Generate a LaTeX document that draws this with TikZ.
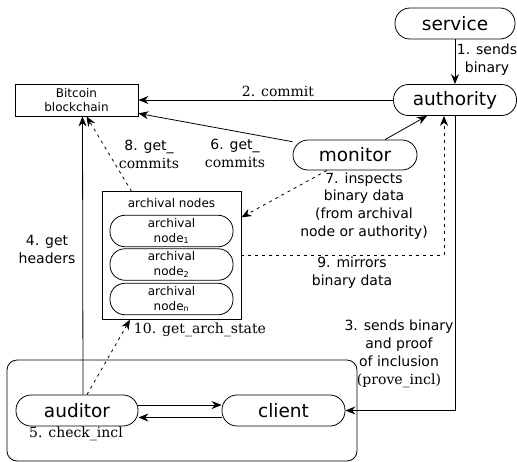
\documentclass[tikz,border=0pt]{standalone}
\usepackage{fontspec}
\setmainfont{DejaVu Sans}
\newfontfamily\serif{DejaVu Serif}
\usetikzlibrary{arrows.meta}
\begin{document}
\begin{tikzpicture}[x=1pt,y=-1pt,line width=0.8pt,
  pill/.style={draw, rounded corners=15pt, minimum width=123pt, minimum height=31pt, inner sep=0pt, font=\fontsize{18.5}{22}\selectfont},
  small/.style={draw, rounded corners=15pt, minimum width=123pt, minimum height=31.5pt, inner sep=0pt, align=center, font=\fontsize{12}{15}\selectfont},
  lbl/.style={font=\fontsize{14}{18}\selectfont, align=center, inner sep=0pt},
  arr/.style={-{Stealth[length=10pt,width=8pt]}},
  dots/.style={dash pattern=on 3pt off 4pt}]
\useasboundingbox (0,0) rectangle (517,461);
% group frame
\node[draw, rounded corners=10pt, minimum width=350pt, minimum height=101pt, inner sep=0pt] (grp) at (182,410.5) {};
% nodes
\node[pill, minimum width=120pt] (service) at (455,23.5) {service};
\node[pill] (authority) at (455,100) {authority};
\node[pill, minimum width=124pt, minimum height=30pt] (monitor) at (355,155) {monitor};
\node[pill, minimum width=122pt] (auditor) at (77,410.5) {auditor};
\node[pill] (client) at (283.5,410.5) {client};
\node[draw, minimum width=123pt, minimum height=32pt, inner sep=0pt, align=center, font=\fontsize{12}{14.7}\selectfont] (bc) at (76.5,100) {Bitcoin\\blockchain};
\node[draw, minimum width=139pt, minimum height=127.6pt, inner sep=0pt] (arch) at (171.5,255.5) {};
\node[inner sep=0pt, font=\fontsize{12}{15}\selectfont] (archlbl) at (171.5,203) {archival nodes};
\node[small] (n1) at (171.5,231) {archival\\node\textsubscript{1}};
\node[small] (n2) at (171.5,264.5) {archival\\node\textsubscript{2}};
\node[small] (nn) at (171.5,299) {archival\\node\textsubscript{n}};
% connectors
\draw[arr] (service) -- (authority);
\node[lbl] (l1) at (487,60) {1. sends\\binary};
\draw[arr] (authority.west) -- (bc.east);
\node[lbl] (l2) at (278,91.5) {\serif 2. commit};
\draw[arr] ([xshift=30pt]monitor.north) -- ([xshift=-28pt]authority.south);
\draw[arr] (monitor.168) -- ([yshift=3pt]bc.south east);
\node[lbl] (l6) at (235,153) {6. get\_\\{\serif commits}};
\draw[arr, dots] ([xshift=-40pt]arch.north) -- ([xshift=10pt]bc.south);
\node[lbl] (l8) at (149,154) {8. get\_\\{\serif commits}};
\draw[arr] ([xshift=6pt]auditor.north) -- ([xshift=6pt]bc.south);
\node[lbl] (l4) at (47,249) {4. get\\headers};
\draw[arr, dots] ([xshift=-28pt]monitor.south) -- ([yshift=-26pt]arch.north east);
\node[lbl, font=\fontsize{14}{17.8}\selectfont] (l7) at (364,206) {7. inspects\\binary data\\(from archival\\node or authority)};
\draw[arr, dots] (arch.east) -| ([xshift=-11pt]authority.south);
\node[lbl] (l9) at (352,273) {9. mirrors\\binary data};
\draw[arr] (authority.south) |- (client.east);
\node[lbl] (l3) at (399,354) {3. sends binary\\and proof\\of inclusion\\{\serif (prove\_incl)}};
\draw[arr] ([yshift=5.5pt]auditor.east) -- ([yshift=5.5pt]client.west);
\draw[arr] ([yshift=-7pt]client.west) -- ([yshift=-7pt]auditor.east);
\node[lbl] (l5) at (76,434) {\serif 5. check\_incl};
\draw[arr, dots] ([xshift=10pt]auditor.north) -- ([xshift=-41.5pt]arch.south);
\node[lbl] (l10) at (200,330) {\serif 10. get\_arch\_state};
\end{tikzpicture}
\end{document}
